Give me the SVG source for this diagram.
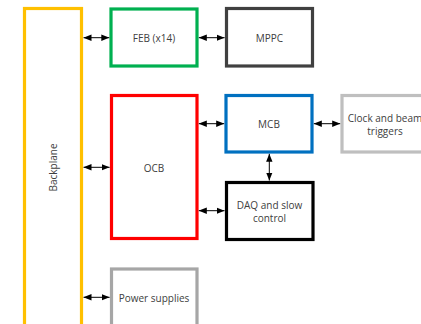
<svg xmlns="http://www.w3.org/2000/svg" width="421" height="324" viewBox="0 0 421 324">
<style>
.box{fill:#fff;stroke-width:3.2}
.t{font-family:"Open Sans","DejaVu Sans",sans-serif;font-size:10px;fill:#404040;text-anchor:middle;dominant-baseline:central}
.c{stroke:#000;stroke-width:1;fill:none;marker-start:url(#a);marker-end:url(#a)}
</style>
<defs>
<marker id="a" viewBox="0 0 8 8" refX="8" refY="4" markerWidth="8" markerHeight="8" markerUnits="userSpaceOnUse" orient="auto-start-reverse">
<path d="M0,0.8 L8,4 L0,7.2 Z" fill="#000"/>
</marker>
</defs>
<rect width="421" height="324" fill="#fff"/>
<g id="backplane">
<rect class="box" x="24.5" y="8.5" width="57" height="330" stroke="#ffc000"/>
<text class="t" transform="translate(52.5,167.5) rotate(-90)">Backplane</text>
</g>
<g id="feb">
<rect class="box" x="111" y="9" width="86" height="57" stroke="#00b050"/>
<text class="t" x="154" y="37.5">FEB (x14)</text>
</g>
<g id="mppc">
<rect class="box" x="226.5" y="8.5" width="86" height="57.5" stroke="#404040" stroke-width="3.6"/>
<text class="t" x="269.5" y="37.5">MPPC</text>
</g>
<g id="ocb">
<rect class="box" x="111.5" y="95.5" width="85.5" height="143" stroke="#ff0000" stroke-width="3.6"/>
<text class="t" x="154" y="167.5">OCB</text>
</g>
<g id="mcb">
<rect class="box" x="226" y="95.5" width="86" height="56.5" stroke="#0070c0"/>
<text class="t" x="269" y="124">MCB</text>
</g>
<g id="clock">
<rect class="box" x="342" y="95.5" width="100" height="56.5" stroke="#bfbfbf"/>
<text class="t" x="385" y="117.5">Clock and beam</text>
<text class="t" x="385" y="130.5">triggers</text>
</g>
<g id="daq">
<rect class="box" x="226.5" y="182.5" width="86.5" height="57" stroke="#000" stroke-width="4"/>
<text class="t" x="269.5" y="204.5">DAQ and slow</text>
<text class="t" x="269.5" y="217.5">control</text>
</g>
<g id="power">
<rect class="box" x="111.5" y="269" width="85.5" height="70" stroke="#a6a6a6"/>
<text class="t" x="154" y="297.5">Power supplies</text>
</g>
<g id="connectors">
<line class="c" x1="83.5" y1="37.7" x2="109.3" y2="37.7"/>
<line class="c" x1="198.8" y1="37.7" x2="224.6" y2="37.7"/>
<line class="c" x1="83.5" y1="167.3" x2="109.6" y2="167.3"/>
<line class="c" x1="198.8" y1="123.7" x2="224.2" y2="123.7"/>
<line class="c" x1="313.8" y1="123.7" x2="340.2" y2="123.7"/>
<line class="c" x1="198.8" y1="210.7" x2="224.5" y2="210.7"/>
<line class="c" x1="269.3" y1="153.8" x2="269.3" y2="180.5"/>
<line class="c" x1="83.5" y1="297.3" x2="109.6" y2="297.3"/>
</g>
</svg>
